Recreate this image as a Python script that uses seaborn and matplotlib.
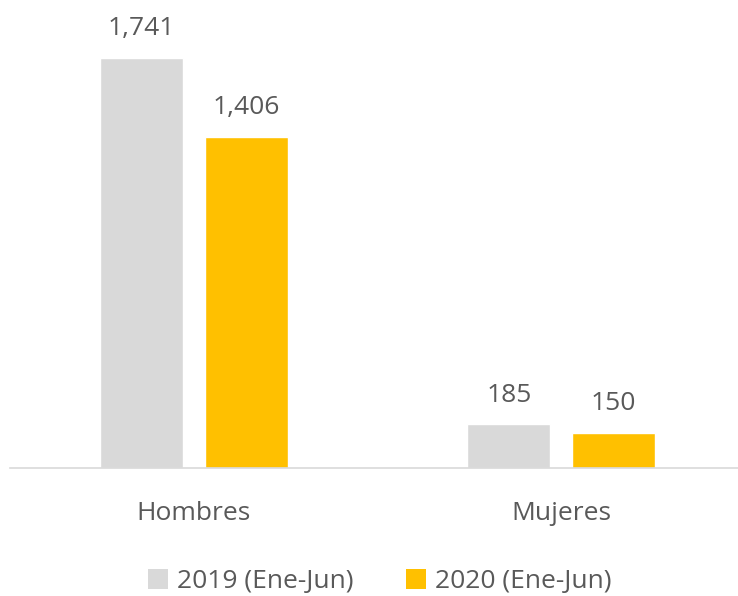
import matplotlib
matplotlib.use("Agg")
import matplotlib.pyplot as plt
import seaborn as sns
import pandas as pd
from matplotlib.patches import Patch

categories = ["Hombres", "Mujeres"]
periods = ["2019 (Ene-Jun)", "2020 (Ene-Jun)"]
values_2019 = [1741, 185]
values_2020 = [1406, 150]

df = pd.DataFrame({
    "sexo": categories * 2,
    "periodo": [periods[0]] * 2 + [periods[1]] * 2,
    "valor": values_2019 + values_2020,
})

colors = {periods[0]: "#D9D9D9", periods[1]: "#FFC000"}
text_color = "#595959"

sns.set_theme(style="white")
plt.rcParams["font.family"] = ["Open Sans", "DejaVu Sans"]

fig = plt.figure(figsize=(7.38, 5.96), dpi=100)
ax = fig.add_axes([10 / 738, 128 / 596, 735 / 738, 448 / 596])

sns.barplot(data=df, x="sexo", y="valor", hue="periodo", palette=colors,
            width=0.571, gap=0.21, ax=ax, legend=False, saturation=1)

ax.set_xlim(-0.5, 1.5)
ax.set_ylim(0, 448 / 0.2355)

for container in ax.containers:
    ax.bar_label(container, labels=[f"{v:,.0f}" for v in container.datavalues],
                 padding=12, fontsize=19, color=text_color)

for s in ["top", "right", "left"]:
    ax.spines[s].set_visible(False)
ax.spines["bottom"].set_color("#D9D9D9")
ax.spines["bottom"].set_linewidth(1.2)
ax.set_yticks([])
ax.set_xlabel("")
ax.set_ylabel("")
ax.tick_params(axis="x", length=0, pad=24, labelsize=19, labelcolor=text_color)

handles = [Patch(facecolor=colors[p], edgecolor="none") for p in periods]
fig.legend(handles, periods, loc="center", bbox_to_anchor=(0.515, 0.024),
           ncol=2, frameon=False, fontsize=19, labelcolor=text_color,
           handlelength=0.75, handleheight=0.75, handletextpad=0.35,
           columnspacing=2.0)

fig.savefig("out.png", dpi=100, facecolor="white")
